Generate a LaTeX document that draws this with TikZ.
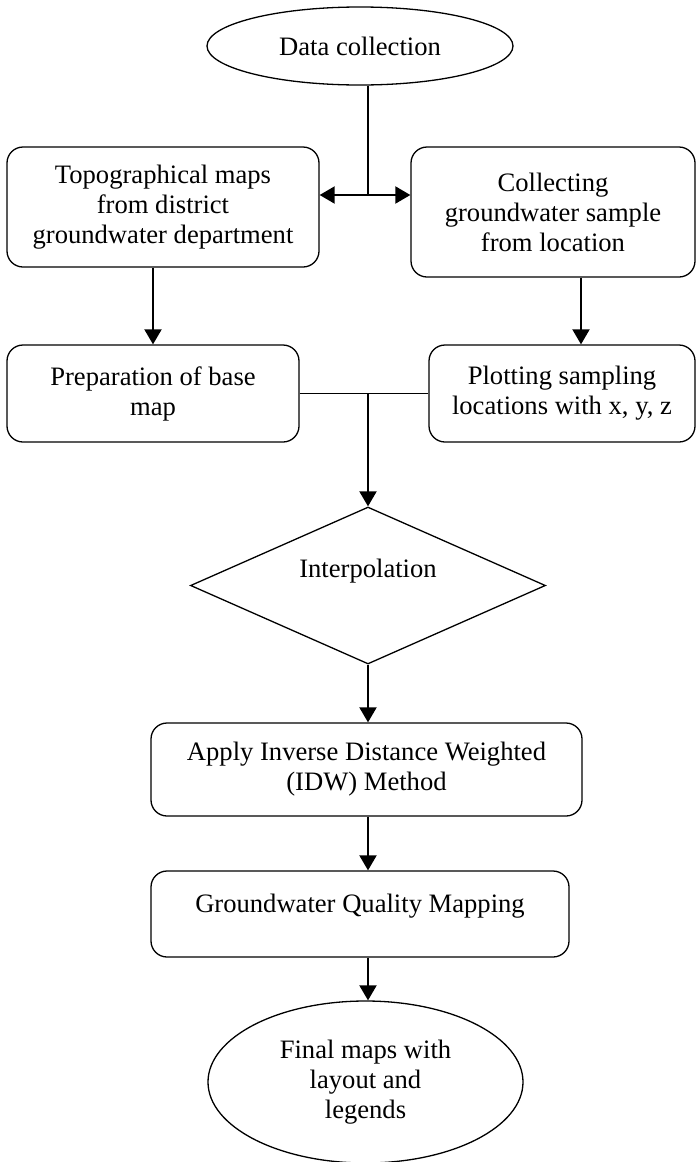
\documentclass[tikz,border=0pt]{standalone}
\usepackage{fontspec}
\setmainfont{Liberation Serif}
\usetikzlibrary{shapes.geometric,arrows.meta}

\begin{document}
\begin{tikzpicture}[x=0.5pt,y=-0.5pt]
\tikzset{every node/.style={font=\fontsize{13.3}{15}\selectfont,align=center,inner sep=0pt}}
\tikzset{stepbox/.style={draw,rounded corners=8pt,line width=0.65pt}}
\tikzset{oval/.style={draw,ellipse,line width=0.65pt}}
\tikzset{arr/.style={-{Triangle[length=7.5pt,width=8.5pt]},line width=1pt}}
\tikzset{twoarr/.style={{Triangle[length=7.5pt,width=8.5pt]}-{Triangle[length=7.5pt,width=8.5pt]},line width=1pt}}

\useasboundingbox (0,0) rectangle (697,1162);

\node[oval,minimum width=153pt,minimum height=39pt] (dc) at (360,46) {Data collection};
\node[stepbox,minimum width=156pt,minimum height=60pt] (topo) at (163,207) {Topographical maps\\from district\\groundwater department};
\node[stepbox,minimum width=142pt,minimum height=65pt] (coll) at (553,212) {Collecting\\groundwater sample\\from location};
\node[stepbox,minimum width=146pt,minimum height=48.5pt] (prep) at (153,393.5) {Preparation of base\\map};
\node[stepbox,minimum width=133pt,minimum height=48.5pt] (plot) at (562,393.5) {Plotting sampling\\locations with x, y, z};
\node[draw,diamond,aspect=2.26,line width=0.65pt,minimum width=177.5pt,minimum height=78.5pt,text height=9pt,text depth=17.5pt] (interp) at (368,585.5) {Interpolation};
\node[stepbox,minimum width=215.5pt,minimum height=46.5pt] (idw) at (366.5,769.5) {Apply Inverse Distance Weighted\\(IDW) Method};
\node[stepbox,minimum width=209pt,text height=20.5pt,text depth=22.5pt] (gqm) at (360,914) {Groundwater Quality Mapping};
\node[oval,minimum width=157.5pt,minimum height=81pt] (final) at (365.5,1082) {Final maps with\\layout and\\legends};

\coordinate (j1) at (368,195);
\coordinate (j2) at (368,393.5);

\draw[line width=0.65pt] (j1 |- dc.south) -- (j1);
\draw[twoarr] (topo.east |- j1) -- (coll.west |- j1);
\draw[arr] (topo.south -| prep.north) -- (prep.north);
\draw[arr] ([xshift=14pt]coll.south) -- ([xshift=14pt]coll.south |- plot.north);
\draw[line width=0.8pt] (prep.east) -- (plot.west);
\draw[arr] (j2) -- (interp.north);
\draw[arr] (interp.south) -- (interp.south |- idw.north);
\draw[arr] (idw.south -| interp.south) -- (interp.south |- gqm.north);
\draw[arr] (gqm.south -| interp.south) -- (interp.south |- final.north);

\end{tikzpicture}
\end{document}
